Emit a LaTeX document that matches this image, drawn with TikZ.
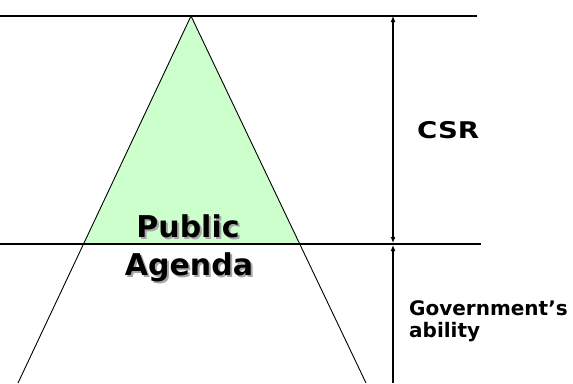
\documentclass[tikz,border=0pt]{standalone}
\usepackage{fontspec}
\setmainfont{DejaVu Sans}
\usetikzlibrary{arrows.meta}
\definecolor{agendagreen}{RGB}{204,255,204}
\tikzset{
  ln/.style={line width=0.9pt, black},
  hln/.style={line width=1.1pt, black},
  dim/.style={line width=1.3pt, black},
  mytip/.tip={Latex[length=6pt,width=5pt]},
  big/.style={font=\bfseries\fontsize{30}{32}\selectfont, inner sep=0pt, anchor=base},
  shadowtxt/.style={big, text=black!35},
  lbl/.style={font=\bfseries\fontsize{23}{26}\selectfont, inner sep=0pt, anchor=base west, xscale=1.2},
  small/.style={font=\bfseries\fontsize{20}{22}\selectfont, inner sep=0pt, anchor=base west, align=left}
}
\begin{document}
\begin{tikzpicture}[x=1pt,y=-1pt]
\useasboundingbox (0,0) rectangle (573,383);
\coordinate (apex) at (191,16);
\coordinate (bl) at (84,244);
\coordinate (br) at (300,244);
\coordinate (lb) at (18,383);
\coordinate (rb) at (366,383);
\coordinate (tl) at (0,16);
\coordinate (tr) at (477,16);
\coordinate (ml) at (0,244);
\coordinate (mr) at (481,244);
\coordinate (vt) at (393,16);
\coordinate (vm) at (393,243);
\coordinate (vm2) at (393,245);
\coordinate (vb) at (393,383);
\fill[agendagreen] (apex) -- (bl) -- (br) -- cycle;
\draw[ln] (apex) -- (lb);
\draw[ln] (apex) -- (rb);
\draw[hln] (tl) -- (tr);
\draw[hln] (ml) -- (mr);
\draw[dim, mytip-mytip] (vm) -- (vt);
\draw[dim, -mytip] (vb) -- (vm2);
\node[shadowtxt] (ps) at (190,239) {Public};
\node[shadowtxt] (as) at (191,277) {Agenda};
\node[big] (p) at (188,237) {Public};
\node[big] (a) at (189,275) {Agenda};
\node[lbl] (csr) at (417,138) {CSR};
\node[small] (gov) at (409,337) {Government’s\\ability};
\end{tikzpicture}
\end{document}
